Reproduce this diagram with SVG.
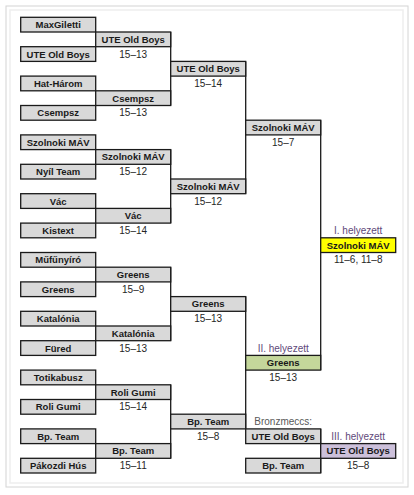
<svg xmlns="http://www.w3.org/2000/svg" width="414" height="495" viewBox="0 0 414 495">
<style>
.box{fill:#d9d9d9;stroke:#1a1a1a;stroke-width:1.3}
.yel{fill:#ffff00;stroke:#1a1a1a;stroke-width:1.3}
.grn{fill:#c4d79b;stroke:#1a1a1a;stroke-width:1.3}
.lav{fill:#ccc0da;stroke:#1a1a1a;stroke-width:1.3}
.t{font-family:"Liberation Sans",Arial,sans-serif;font-size:9.5px;font-weight:bold;fill:#1a1a1a;text-anchor:middle}
.s{font-family:"Liberation Sans",Arial,sans-serif;font-size:10px;fill:#262626;text-anchor:middle}
.p{font-family:"Liberation Sans",Arial,sans-serif;font-size:10px;fill:#5f497a;text-anchor:middle}
.g{font-family:"Liberation Sans",Arial,sans-serif;font-size:10px;fill:#595959;text-anchor:middle}
.ln{stroke:#1a1a1a;stroke-width:1.3;fill:none}
</style>
<rect x="0" y="0" width="414" height="495" fill="#ffffff"/>
<rect x="6" y="6" width="402" height="481" fill="#ffffff" stroke="#d4d4d4" stroke-width="1"/>
<rect x="10" y="10" width="393" height="473" fill="#ffffff" stroke="#eeeeee" stroke-width="1.5"/>

<g id="connectors">
<path class="ln" d="M170.7 32 V105.5 M170.7 149.6 V223.1 M170.7 267.2 V340.7 M170.7 384.8 V458.3 M245.7 61.4 V193.7 M245.7 296.6 V428.9 M320.7 120.2 V370.1 M320.7 428.9 V473"/>
</g>

<g id="r1-maxgiletti"><rect class="box" x="20.7" y="17.3" width="75" height="14.7"/><text class="t" x="58.2" y="28.1">MaxGiletti</text></g>
<g id="r1-uteoldboys"><rect class="box" x="20.7" y="46.7" width="75" height="14.7"/><text class="t" x="58.2" y="57.5">UTE Old Boys</text></g>
<g id="r1-hatharom"><rect class="box" x="20.7" y="76.1" width="75" height="14.7"/><text class="t" x="58.2" y="86.9">Hat-Három</text></g>
<g id="r1-csempsz"><rect class="box" x="20.7" y="105.5" width="75" height="14.7"/><text class="t" x="58.2" y="116.3">Csempsz</text></g>
<g id="r1-szolnoki"><rect class="box" x="20.7" y="134.9" width="75" height="14.7"/><text class="t" x="58.2" y="145.7">Szolnoki MÁV</text></g>
<g id="r1-nyilteam"><rect class="box" x="20.7" y="164.3" width="75" height="14.7"/><text class="t" x="58.2" y="175.1">Nyíl Team</text></g>
<g id="r1-vac"><rect class="box" x="20.7" y="193.7" width="75" height="14.7"/><text class="t" x="58.2" y="204.5">Vác</text></g>
<g id="r1-kistext"><rect class="box" x="20.7" y="223.1" width="75" height="14.7"/><text class="t" x="58.2" y="233.9">Kistext</text></g>
<g id="r1-mufunyiro"><rect class="box" x="20.7" y="252.5" width="75" height="14.7"/><text class="t" x="58.2" y="263.3">Műfűnyíró</text></g>
<g id="r1-greens"><rect class="box" x="20.7" y="281.9" width="75" height="14.7"/><text class="t" x="58.2" y="292.7">Greens</text></g>
<g id="r1-katalonia"><rect class="box" x="20.7" y="311.3" width="75" height="14.7"/><text class="t" x="58.2" y="322.1">Katalónia</text></g>
<g id="r1-fured"><rect class="box" x="20.7" y="340.7" width="75" height="14.7"/><text class="t" x="58.2" y="351.5">Füred</text></g>
<g id="r1-totikabusz"><rect class="box" x="20.7" y="370.1" width="75" height="14.7"/><text class="t" x="58.2" y="380.9">Totikabusz</text></g>
<g id="r1-roligumi"><rect class="box" x="20.7" y="399.5" width="75" height="14.7"/><text class="t" x="58.2" y="410.3">Roli Gumi</text></g>
<g id="r1-bpteam"><rect class="box" x="20.7" y="428.9" width="75" height="14.7"/><text class="t" x="58.2" y="439.7">Bp. Team</text></g>
<g id="r1-pakozdi"><rect class="box" x="20.7" y="458.3" width="75" height="14.7"/><text class="t" x="58.2" y="469.1">Pákozdi Hús</text></g>

<g id="r2-m1"><rect class="box" x="95.7" y="32" width="75" height="14.7"/><text class="t" x="133.2" y="42.8">UTE Old Boys</text><text class="s" x="133.2" y="57.5">15–13</text></g>
<g id="r2-m2"><rect class="box" x="95.7" y="90.8" width="75" height="14.7"/><text class="t" x="133.2" y="101.6">Csempsz</text><text class="s" x="133.2" y="116.3">15–13</text></g>
<g id="r2-m3"><rect class="box" x="95.7" y="149.6" width="75" height="14.7"/><text class="t" x="133.2" y="160.4">Szolnoki MÁV</text><text class="s" x="133.2" y="175.1">15–12</text></g>
<g id="r2-m4"><rect class="box" x="95.7" y="208.4" width="75" height="14.7"/><text class="t" x="133.2" y="219.2">Vác</text><text class="s" x="133.2" y="233.9">15–14</text></g>
<g id="r2-m5"><rect class="box" x="95.7" y="267.2" width="75" height="14.7"/><text class="t" x="133.2" y="278">Greens</text><text class="s" x="133.2" y="292.7">15–9</text></g>
<g id="r2-m6"><rect class="box" x="95.7" y="326" width="75" height="14.7"/><text class="t" x="133.2" y="336.8">Katalónia</text><text class="s" x="133.2" y="351.5">15–13</text></g>
<g id="r2-m7"><rect class="box" x="95.7" y="384.8" width="75" height="14.7"/><text class="t" x="133.2" y="395.6">Roli Gumi</text><text class="s" x="133.2" y="410.3">15–14</text></g>
<g id="r2-m8"><rect class="box" x="95.7" y="443.6" width="75" height="14.7"/><text class="t" x="133.2" y="454.4">Bp. Team</text><text class="s" x="133.2" y="469.1">15–11</text></g>

<g id="r3-m1"><rect class="box" x="170.7" y="61.4" width="75" height="14.7"/><text class="t" x="208.2" y="72.2">UTE Old Boys</text><text class="s" x="208.2" y="86.9">15–14</text></g>
<g id="r3-m2"><rect class="box" x="170.7" y="179" width="75" height="14.7"/><text class="t" x="208.2" y="189.8">Szolnoki MÁV</text><text class="s" x="208.2" y="204.5">15–12</text></g>
<g id="r3-m3"><rect class="box" x="170.7" y="296.6" width="75" height="14.7"/><text class="t" x="208.2" y="307.4">Greens</text><text class="s" x="208.2" y="322.1">15–13</text></g>
<g id="r3-m4"><rect class="box" x="170.7" y="414.2" width="75" height="14.7"/><text class="t" x="208.2" y="425">Bp. Team</text><text class="s" x="208.2" y="439.7">15–8</text></g>

<g id="sf-top"><rect class="box" x="245.7" y="120.2" width="75" height="14.7"/><text class="t" x="283.2" y="131">Szolnoki MÁV</text><text class="s" x="283.2" y="145.7">15–7</text></g>
<g id="second"><text class="p" x="283.2" y="351.5">II. helyezett</text><rect class="grn" x="245.7" y="355.4" width="75" height="14.7"/><text class="t" x="283.2" y="366.2">Greens</text><text class="s" x="283.2" y="380.9">15–13</text></g>

<g id="first"><text class="p" x="358.2" y="233.9">I. helyezett</text><rect class="yel" x="320.7" y="237.8" width="75" height="14.7"/><text class="t" x="358.2" y="248.6">Szolnoki MÁV</text><text class="s" x="358.2" y="263.3">11–6, 11–8</text></g>

<g id="bronze"><text class="g" x="283.2" y="425">Bronzmeccs:</text><rect class="box" x="245.7" y="428.9" width="75" height="14.7"/><text class="t" x="283.2" y="439.7">UTE Old Boys</text><rect class="box" x="245.7" y="458.3" width="75" height="14.7"/><text class="t" x="283.2" y="469.1">Bp. Team</text></g>

<g id="third"><text class="p" x="358.2" y="439.7">III. helyezett</text><rect class="lav" x="320.7" y="443.6" width="75" height="14.7"/><text class="t" x="358.2" y="454.4">UTE Old Boys</text><text class="s" x="358.2" y="469.1">15–8</text></g>
</svg>
